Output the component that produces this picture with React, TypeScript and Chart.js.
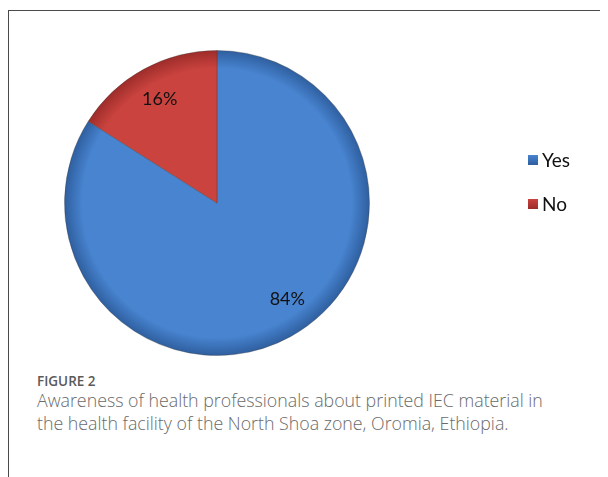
import React, { useEffect, useRef } from "react";
import { Chart, registerables } from "chart.js";

Chart.register(...registerables);

const categories = ["Yes", "No"];
const values = [84, 16];
const valueLabels = ["84%", "16%"];
const colorsLight = ["#4884D0", "#CA433F"];
const colorsDark = ["#2E5E9E", "#9C2C29"];

const labelPlugin = {
  id: "pieLabels",
  afterDatasetsDraw(chart: any) {
    const ctx = chart.ctx;
    const meta = chart.getDatasetMeta(0);
    ctx.save();
    ctx.font = "18px Lato";
    ctx.fillStyle = "#111";
    ctx.textAlign = "center";
    ctx.textBaseline = "middle";
    meta.data.forEach((arc: any, i: number) => {
      const p = arc.getProps(["x", "y", "startAngle", "endAngle", "outerRadius"], true);
      let mid = (p.startAngle + p.endAngle) / 2;
      if (i === 0) mid -= 0.13;
      const r = p.outerRadius * 0.78;
      ctx.fillText(valueLabels[i], p.x + Math.cos(mid) * r, p.y + Math.sin(mid) * r);
    });
    // legend
    const lx = 519;
    const ly = [149, 193];
    categories.forEach((c, i) => {
      const y = ly[i];
      const g = ctx.createLinearGradient(0, y - 5, 0, y + 5);
      g.addColorStop(0, colorsLight[i]);
      g.addColorStop(1, colorsDark[i]);
      ctx.fillStyle = g;
      ctx.fillRect(lx, y - 5, 10, 10);
      ctx.fillStyle = "#111";
      ctx.textAlign = "left";
      ctx.font = "19px Lato";
      ctx.fillText(c, lx + 14, y + 1);
    });
    ctx.restore();
  },
};

export default function App() {
  const ref = useRef<HTMLCanvasElement>(null);
  useEffect(() => {
    if (!ref.current) return;
    const chart = new Chart(ref.current, {
      type: "pie",
      data: {
        labels: categories,
        datasets: [
          {
            data: values,
            backgroundColor: (c: any) => {
              const ch = c.chart;
              const area = ch.chartArea;
              if (!area) return colorsLight[c.dataIndex];
              const cx = (area.left + area.right) / 2;
              const cy = (area.top + area.bottom) / 2;
              const r = Math.min(area.right - area.left, area.bottom - area.top) / 2;
              const g = ch.ctx.createRadialGradient(cx, cy, 0, cx, cy, r);
              g.addColorStop(0, colorsLight[c.dataIndex]);
              g.addColorStop(0.88, colorsLight[c.dataIndex]);
              g.addColorStop(1, colorsDark[c.dataIndex]);
              return g;
            },
            borderColor: "rgba(60,60,60,0.35)",
            borderWidth: 1,
          },
        ],
      },
      options: {
        animation: false,
        responsive: false,
        layout: { padding: { left: 55, right: 238, top: 39, bottom: 15 } },
        plugins: { legend: { display: false }, tooltip: { enabled: false } },
      },
      plugins: [labelPlugin],
    });
    return () => chart.destroy();
  }, []);

  return (
    <div
      style={{
        position: "relative",
        marginTop: 2,
        width: 600,
        height: 467,
        borderTop: "1px solid #4a4a4a",
        borderLeft: "1px solid #4a4a4a",
        boxSizing: "border-box",
      }}
    >
      <canvas ref={ref} width={599} height={360} style={{ position: "absolute", left: 0, top: 0 }} />
      <div
        style={{
          position: "absolute",
          left: 28,
          top: 361,
          fontFamily: "'Open Sans'",
          color: "#5a5a5a",
          fontSize: 13.5,
          fontWeight: 600,
        }}
      >
        FIGURE 2
      </div>
      <div
        style={{
          position: "absolute",
          left: 28,
          top: 378,
          width: 575,
          fontFamily: "'Open Sans'",
          color: "#6a6a6a",
          fontSize: 17.8,
          fontWeight: 300,
          lineHeight: "23px",
          whiteSpace: "nowrap",
        }}
      >
        Awareness of health professionals about printed IEC material in
        <br />
        the health facility of the North Shoa zone, Oromia, Ethiopia.
      </div>
    </div>
  );
}
